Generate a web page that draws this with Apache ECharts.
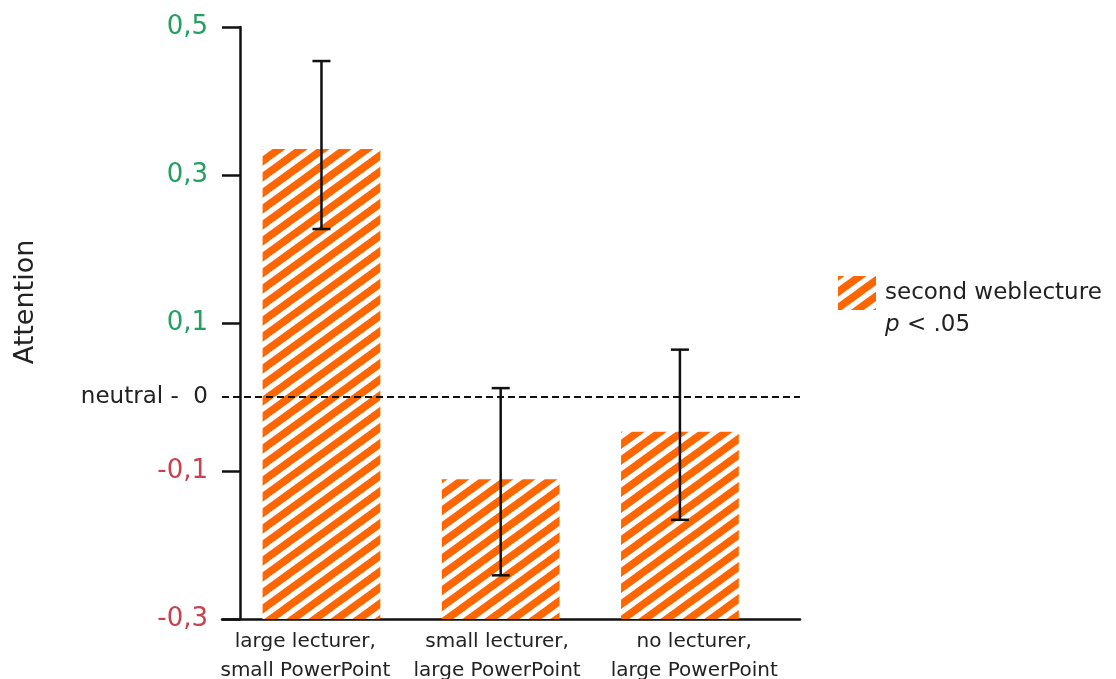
<!DOCTYPE html>
<html>
<head>
<meta charset="utf-8">
<title>Attention</title>
<script src="https://cdn.jsdelivr.net/npm/echarts@6/dist/echarts.min.js"></script>
<style>
  html, body { margin: 0; padding: 0; background: #fff; }
  #chart { width: 1116px; height: 679px; }
</style>
</head>
<body>
<div id="chart"></div>
<script>
var categories = ['large lecturer,\nsmall PowerPoint', 'small lecturer,\nlarge PowerPoint', 'no lecturer,\nlarge PowerPoint'];
// where the category labels sit on the x scale (the original puts them a bit off the bar centres)
var labelPos = [-0.09, 0.98, 2.08];
var attention = [0.335, -0.111, -0.047];
var errLow = [0.227, -0.241, -0.166];
var errHigh = [0.454, 0.012, 0.064];
var yTicks = [-0.3, -0.1, 0, 0.1, 0.3, 0.5];
var yTickLabels = ['-0,3', '-0,1', 'neutral -  0', '0,1', '0,3', '0,5'];
var seriesName = 'second weblecture';

var FONT = 'DejaVu Sans';
var ORANGE = '#ff6600';
var yMin = -0.3, yMax = 0.5;

// diagonal stripe tile for the bars (a bit flatter than 45deg, like the original)
function stripeTile() {
  var tw = 22, th = 16;
  var c = document.createElement('canvas');
  c.width = tw; c.height = th;
  var g = c.getContext('2d');
  g.fillStyle = '#fff';
  g.fillRect(0, 0, tw, th);
  g.strokeStyle = ORANGE;
  g.lineWidth = 7.5;
  [-tw, 0, tw].forEach(function (x0) {
    g.beginPath();
    g.moveTo(x0 - tw / 2, th * 1.5);
    g.lineTo(x0 + tw * 1.5, -th / 2);
    g.stroke();
  });
  return c;
}
var stripes = { image: stripeTile(), repeat: 'repeat' };

var barData = attention.map(function (v, i) { return [i, v]; });
var errData = errLow.map(function (lo, i) { return [i, lo, errHigh[i]]; });

function yLabel(v) {
  for (var i = 0; i < yTicks.length; i++) {
    if (Math.abs(yTicks[i] - v) < 1e-9) {
      if (yTicks[i] > 0) return '{g|' + yTickLabels[i] + '}';
      if (yTicks[i] < 0) return '{r|' + yTickLabels[i] + '}';
      return '{n|' + yTickLabels[i] + '}';
    }
  }
  return '';
}

function xLabel(v) {
  for (var i = 0; i < labelPos.length; i++) {
    if (Math.abs(labelPos[i] - v) < 1e-9) return categories[i];
  }
  return '';
}

var chart = echarts.init(document.getElementById('chart'));
chart.setOption({
  animation: false,
  backgroundColor: '#fff',
  grid: { left: 222, right: 316, top: 27, bottom: 60, outerBoundsMode: 'none', containLabel: false },
  legend: {
    data: [seriesName],
    left: 833, top: 240,
    icon: 'rect',
    itemWidth: 38, itemHeight: 34,
    formatter: function (n) { return ' \n' + n + '\n{i|p} < .05'; },
    textStyle: {
      fontFamily: FONT, fontSize: 23, color: '#222', lineHeight: 32,
      padding: [0, 0, 0, 4],
      rich: { i: { fontFamily: FONT, fontSize: 23, fontStyle: 'italic', color: '#222', lineHeight: 32 } }
    }
  },
  graphic: [{
    type: 'text',
    x: 26, y: 302,
    rotation: Math.PI / 2,
    style: { text: 'Attention', fontFamily: FONT, fontSize: 27, fill: '#222', align: 'center', verticalAlign: 'middle' }
  }],
  xAxis: {
    type: 'value',
    min: -0.555, max: 2.67,
    splitLine: { show: false },
    axisTick: { show: false },
    axisLine: { onZero: false, lineStyle: { color: '#111', width: 2.5 } },
    axisLabel: {
      customValues: labelPos,
      formatter: xLabel,
      fontFamily: FONT, fontSize: 20, color: '#222', lineHeight: 29, margin: 8
    }
  },
  yAxis: {
    type: 'value',
    min: yMin, max: yMax,
    offset: -18,
    splitLine: { show: false },
    axisLine: { onZero: false, lineStyle: { color: '#111', width: 2.5 } },
    axisTick: {
      customValues: [-0.3, -0.1, 0.1, 0.3, 0.5],
      length: 18,
      lineStyle: { color: '#111', width: 2.5 }
    },
    axisLabel: {
      customValues: yTicks,
      margin: 32,
      formatter: yLabel,
      rich: {
        g: { fontFamily: FONT, fontSize: 26, color: '#23a05e' },
        r: { fontFamily: FONT, fontSize: 26, color: '#c9414f' },
        n: { fontFamily: FONT, fontSize: 23, color: '#222' }
      }
    }
  },
  series: [
    {
      name: seriesName,
      type: 'custom',
      itemStyle: { color: stripes },
      data: barData,
      renderItem: function (params, api) {
        var x = api.value(0);
        var top = api.coord([x, api.value(1)]);
        var base = api.coord([x, yMin]);
        var w = api.size([0.657, 0])[0];
        return {
          type: 'rect',
          shape: { x: top[0] - w / 2, y: top[1], width: w, height: base[1] - top[1] },
          style: { fill: stripes }
        };
      },
      markLine: {
        silent: true,
        symbol: 'none',
        label: { show: false },
        lineStyle: { color: '#111', type: [7, 4], width: 2 },
        data: [{ yAxis: 0 }]
      },
      z: 2
    },
    {
      name: 'error',
      type: 'custom',
      data: errData,
      renderItem: function (params, api) {
        var x = api.value(0);
        var lo = api.coord([x, api.value(1)]);
        var hi = api.coord([x, api.value(2)]);
        var cap = 9;
        var st = { stroke: '#111', lineWidth: 2.5 };
        return {
          type: 'group',
          children: [
            { type: 'line', shape: { x1: lo[0], y1: lo[1], x2: hi[0], y2: hi[1] }, style: st },
            { type: 'line', shape: { x1: hi[0] - cap, y1: hi[1], x2: hi[0] + cap, y2: hi[1] }, style: st },
            { type: 'line', shape: { x1: lo[0] - cap, y1: lo[1], x2: lo[0] + cap, y2: lo[1] }, style: st }
          ]
        };
      },
      z: 5
    }
  ]
});
</script>
</body>
</html>
